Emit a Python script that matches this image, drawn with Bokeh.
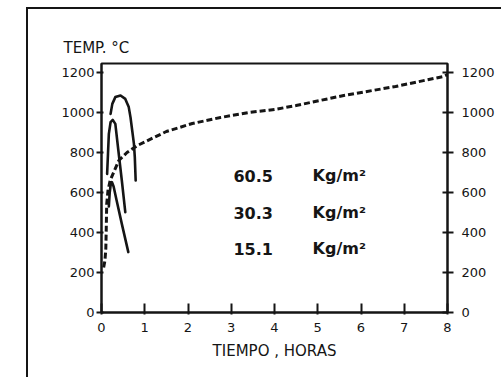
from bokeh.plotting import figure
from bokeh.models import LinearAxis, FixedTicker, Label, Range1d, Title
from bokeh.embed import file_html
from bokeh.resources import INLINE

# ---- data ----
std_t = [0.05, 0.08, 0.10, 0.11, 0.12, 0.15, 0.20, 0.28, 0.40, 0.59, 0.83, 1.02, 1.5, 2.1, 2.75, 3.4, 4.0, 4.5, 5.6, 6.8, 7.9, 8.0]
std_T = [225, 260, 320, 420, 540, 610, 660, 700, 760, 800, 835, 855, 905, 945, 975, 1000, 1015, 1035, 1085, 1130, 1180, 1190]

c60_t = [0.21, 0.25, 0.32, 0.44, 0.55, 0.63, 0.67, 0.71, 0.75, 0.77, 0.79]
c60_T = [993, 1043, 1077, 1085, 1068, 1027, 977, 910, 843, 777, 660]

c30_t = [0.13, 0.15, 0.17, 0.21, 0.26, 0.32, 0.39, 0.47, 0.55]
c30_T = [693, 793, 893, 952, 963, 943, 810, 660, 502]

c15_t = [0.17, 0.19, 0.21, 0.24, 0.28, 0.35, 0.47, 0.62]
c15_T = [530, 600, 635, 652, 630, 560, 443, 302]

x_ticks = [0, 1, 2, 3, 4, 5, 6, 7, 8]
y_ticks = [0, 200, 400, 600, 800, 1000, 1200]
labels_num = ["60.5", "30.3", "15.1"]
labels_unit = "Kg/m²"
label_T = [685, 500, 320]

FONT = "DejaVu Sans"
INK = "#151515"

p = figure(width=475, height=370, output_backend="svg", toolbar_location=None,
           x_range=Range1d(0, 8), y_range=Range1d(0, 1245),
           min_border_left=73, min_border_right=56, min_border_top=54, min_border_bottom=67)
p.margin = (7, 0, 0, 26)
p.styles = {"border-top": f"2px solid {INK}", "border-left": f"2px solid {INK}"}
p.grid.visible = False
p.outline_line_color = INK
p.outline_line_width = 2
p.background_fill_color = "white"
p.border_fill_color = "white"

p.title.text = "TEMP. °C"
p.title.align = "left"
p.title.offset = -38
p.title.standoff = 14
p.title.text_font = FONT
p.title.text_font_size = "15px"
p.title.text_font_style = "normal"
p.title.text_color = INK

def style_axis(ax):
    ax.axis_line_color = INK
    ax.axis_line_width = 2
    ax.major_tick_line_color = INK
    ax.major_tick_line_width = 2
    ax.minor_tick_line_color = None
    ax.major_label_text_font = FONT
    ax.major_label_text_font_size = "13px"
    ax.major_label_text_color = INK

xa = p.xaxis[0]
xa.ticker = FixedTicker(ticks=x_ticks)
style_axis(xa)
xa.major_tick_in = 9
xa.major_tick_out = 2
xa.major_label_standoff = 8

ya = p.yaxis[0]
ya.ticker = FixedTicker(ticks=y_ticks)
style_axis(ya)
ya.major_tick_in = 2
ya.major_tick_out = 5
ya.major_label_standoff = 2

ra = LinearAxis(ticker=FixedTicker(ticks=y_ticks))
style_axis(ra)
ra.major_tick_in = 5
ra.major_tick_out = 6
ra.major_label_standoff = 8
p.add_layout(ra, "right")

p.add_layout(Title(text="TIEMPO , HORAS", align="center", offset=19, text_font=FONT,
                   text_font_size="15px", text_font_style="normal", text_color=INK), "below")

# curves
p.line(std_t, std_T, line_color=INK, line_width=3, line_dash="6 3")
for t, T in [(c60_t, c60_T), (c30_t, c30_T), (c15_t, c15_T)]:
    p.line(t, T, line_color=INK, line_width=2.6, line_join="round", line_cap="round")

# annotations
for num, T in zip(labels_num, label_T):
    p.add_layout(Label(x=3.05, y=T, text=num, text_font=FONT, text_font_size="16px",
                       text_font_style="bold", text_color=INK, text_baseline="middle"))
    p.add_layout(Label(x=4.88, y=T, text=labels_unit, text_font=FONT, text_font_size="16px",
                       text_font_style="bold", text_color=INK, text_baseline="middle"))

open("out.html", "w").write(file_html(p, INLINE))
